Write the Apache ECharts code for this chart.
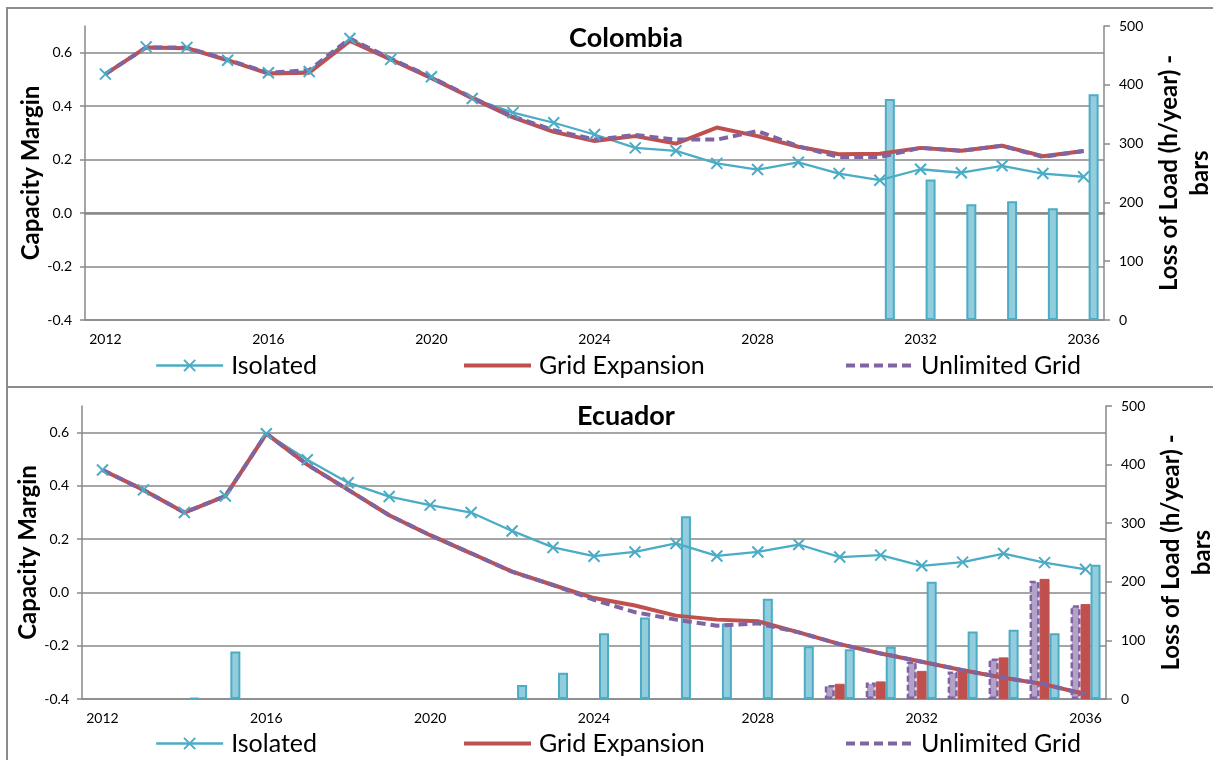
<!DOCTYPE html>
<html>
<head>
<meta charset="utf-8">
<title>Capacity Margin and Loss of Load</title>
<script src="https://cdn.jsdelivr.net/npm/echarts@6/dist/echarts.min.js"></script>
<style>
  html, body { margin: 0; padding: 0; background: #ffffff; }
  #chart { width: 1213px; height: 760px; }
</style>
</head>
<body>
<div id="chart"></div>
<script>
// Years on the category axis
const years = [2012, 2013, 2014, 2015, 2016, 2017, 2018, 2019, 2020, 2021, 2022, 2023, 2024,
               2025, 2026, 2027, 2028, 2029, 2030, 2031, 2032, 2033, 2034, 2035, 2036];

// Colombia – capacity margin (left axis, lines)
const colombiaIsolated  = [0.520, 0.622, 0.620, 0.572, 0.525, 0.530, 0.653, 0.575, 0.510, 0.429, 0.376, 0.338, 0.294,
                           0.244, 0.233, 0.186, 0.163, 0.190, 0.148, 0.123, 0.164, 0.151, 0.177, 0.148, 0.136];
const colombiaGrid      = [0.520, 0.620, 0.617, 0.572, 0.522, 0.525, 0.644, 0.575, 0.505, 0.430, 0.358, 0.304, 0.270,
                           0.288, 0.260, 0.320, 0.288, 0.248, 0.220, 0.222, 0.244, 0.233, 0.252, 0.213, 0.232];
const colombiaUnlimited = [0.520, 0.620, 0.619, 0.574, 0.525, 0.535, 0.653, 0.578, 0.508, 0.432, 0.362, 0.310, 0.275,
                           0.292, 0.275, 0.275, 0.307, 0.250, 0.210, 0.210, 0.244, 0.233, 0.252, 0.210, 0.232];

// Colombia – loss of load, h/year (right axis, bars)
const colombiaLolIsolated  = [0, 0, 0, 0, 0, 0, 0, 0, 0, 0, 0, 0, 0, 0, 0, 0, 0, 0, 0, 376, 239, 197, 202, 190, 384];
const colombiaLolGrid      = [0, 0, 0, 0, 0, 0, 0, 0, 0, 0, 0, 0, 0, 0, 0, 0, 0, 0, 0, 0, 0, 0, 0, 0, 0];
const colombiaLolUnlimited = [0, 0, 0, 0, 0, 0, 0, 0, 0, 0, 0, 0, 0, 0, 0, 0, 0, 0, 0, 0, 0, 0, 0, 0, 0];

// Ecuador – capacity margin (left axis, lines)
const ecuadorIsolated  = [0.460, 0.385, 0.300, 0.362, 0.596, 0.498, 0.412, 0.360, 0.328, 0.300, 0.231, 0.169, 0.136,
                          0.152, 0.184, 0.137, 0.152, 0.180, 0.133, 0.140, 0.100, 0.114, 0.146, 0.112, 0.087];
const ecuadorGrid      = [0.460, 0.385, 0.300, 0.362, 0.596, 0.480, 0.385, 0.290, 0.215, 0.147, 0.078, 0.028, -0.021,
                          -0.049, -0.087, -0.102, -0.108, -0.150, -0.194, -0.229, -0.260, -0.292, -0.320, -0.345, -0.382];
const ecuadorUnlimited = [0.460, 0.385, 0.300, 0.362, 0.596, 0.480, 0.385, 0.290, 0.215, 0.147, 0.078, 0.028, -0.028,
                          -0.074, -0.102, -0.125, -0.116, -0.150, -0.194, -0.229, -0.260, -0.292, -0.320, -0.345, -0.382];

// Ecuador – loss of load, h/year (right axis, bars)
const ecuadorLolIsolated  = [0, 0, 2, 81, 0, 0, 0, 0, 0, 0, 24, 45, 112, 139, 312, 129, 171, 90, 85, 89, 200, 115, 118, 112, 229];
const ecuadorLolGrid      = [0, 0, 0, 0, 0, 0, 0, 0, 0, 0, 0, 0, 0, 0, 0, 0, 0, 0, 26, 30, 48, 50, 71, 205, 162];
const ecuadorLolUnlimited = [0, 0, 0, 0, 0, 0, 0, 0, 0, 0, 0, 0, 0, 0, 0, 0, 0, 0, 24, 28, 64, 47, 69, 202, 160];

// Axis ranges and titles
const marginAxis = { min: -0.4, max: 0.7, interval: 0.2 };
const lolAxis = { min: 0, max: 500, interval: 100 };
const marginTitle = 'Capacity Margin';
const lolTitle = 'Loss of Load (h/year) -\nbars';
const seriesNames = ['Isolated', 'Grid Expansion', 'Unlimited Grid'];

const FONT = 'Lato, "Open Sans", sans-serif';
const GRID_GRAY = '#898989';
const C_ISO = '#4BACC6', C_ISO_FILL = '#93CDDD';
const C_GRID = '#C0504D';
const C_UNL = '#8064A2', C_UNL_FILL = '#B3A2C7';
const CROSS = 'path://M0,0L10,10M0,10L10,0';
const LINE_WIDTHS = [2.3, 4, 4];

const panels = [
  { name: 'Colombia', grid: { left: 85, top: 26, width: 1019, height: 294 }, titleTop: 20, legendTop: 353,
    iso: colombiaIsolated, grid2: colombiaGrid, unl: colombiaUnlimited,
    lolIso: colombiaLolIsolated, lolGrid: colombiaLolGrid, lolUnl: colombiaLolUnlimited, zeroLine: true },
  { name: 'Ecuador', grid: { left: 82, top: 406, width: 1024, height: 293 }, titleTop: 398, legendTop: 731,
    iso: ecuadorIsolated, grid2: ecuadorGrid, unl: ecuadorUnlimited,
    lolIso: ecuadorLolIsolated, lolGrid: ecuadorLolGrid, lolUnl: ecuadorLolUnlimited, zeroLine: false }
];
// legend entry positions (left edge of each key)
const legendLefts = [155, 462, 844];

const barValues = arr => arr.map(v => (v > 0 ? v : '-'));
const fmtMargin = v => (Math.abs(v) < 1e-9 ? '0.0' : v.toFixed(1));

const option = {
  animation: false,
  backgroundColor: '#ffffff',
  textStyle: { fontFamily: FONT },
  title: [], grid: [], xAxis: [], yAxis: [], legend: [], series: [],
  graphic: [
    { type: 'rect', shape: { x: 7, y: 8, width: 1230, height: 379 },
      style: { fill: 'none', stroke: '#8c8c8c', lineWidth: 2 }, silent: true },
    { type: 'rect', shape: { x: 7, y: 387, width: 1230, height: 420 },
      style: { fill: 'none', stroke: '#8c8c8c', lineWidth: 2 }, silent: true }
  ]
};

panels.forEach((p, i) => {
  option.title.push({
    text: p.name, left: 621, top: p.titleTop, textAlign: 'center',
    textStyle: { fontFamily: FONT, fontSize: 27, fontWeight: 'bold', color: '#000' }
  });
  option.grid.push(Object.assign({ containLabel: false, outerBoundsMode: 'none' }, p.grid));

  const xBase = option.xAxis.length;
  option.xAxis.push({
    type: 'category', gridIndex: i, data: years, boundaryGap: true,
    axisLine: { onZero: false, lineStyle: { color: GRID_GRAY, width: 1.5 } },
    axisTick: { show: false },
    axisLabel: { interval: 3, margin: 12, fontSize: 14, color: '#000', fontFamily: FONT },
    splitLine: { show: false }
  });
  if (p.zeroLine) {
    // horizontal category axis crossing at zero margin
    option.xAxis.push({
      type: 'category', gridIndex: i, data: years, boundaryGap: true, position: 'bottom',
      axisLine: { onZero: true, onZeroAxisIndex: option.yAxis.length, lineStyle: { color: GRID_GRAY, width: 2.5 } },
      axisTick: { show: false }, axisLabel: { show: false }, splitLine: { show: false }
    });
  }

  const yLeft = option.yAxis.length;
  option.yAxis.push({
    type: 'value', gridIndex: i, position: 'left',
    min: marginAxis.min, max: marginAxis.max, interval: marginAxis.interval,
    name: marginTitle, nameLocation: 'middle', nameGap: 42, nameRotate: 90, nameMoveOverlap: false,
    nameTextStyle: { fontFamily: FONT, fontSize: 24, fontWeight: 'bold', color: '#000' },
    axisLine: { show: true, lineStyle: { color: GRID_GRAY, width: 1.5 } },
    axisTick: { show: true, inside: false, length: 5, lineStyle: { color: GRID_GRAY, width: 1.5 } },
    axisLabel: { formatter: fmtMargin, showMaxLabel: false, margin: 13, fontSize: 14, color: '#000', fontFamily: FONT },
    splitLine: { show: true, showMaxLine: false, lineStyle: { color: GRID_GRAY, width: 1.5 } }
  });
  const yRight = option.yAxis.length;
  option.yAxis.push({
    type: 'value', gridIndex: i, position: 'right',
    min: lolAxis.min, max: lolAxis.max, interval: lolAxis.interval,
    name: lolTitle, nameLocation: 'middle', nameGap: 46, nameRotate: 90,
    nameTextStyle: { fontFamily: FONT, fontSize: 24, fontWeight: 'bold', color: '#000', lineHeight: 31 },
    axisLine: { show: true, lineStyle: { color: GRID_GRAY, width: 1.5 } },
    axisTick: { show: true, inside: false, length: 6, lineStyle: { color: GRID_GRAY, width: 1.5 } },
    axisLabel: { margin: 15, fontSize: 14, color: '#000', fontFamily: FONT },
    splitLine: { show: false }
  });

  seriesNames.forEach((nm, k) => {
    option.legend.push({
      data: [k === 0 ? { name: nm } : { name: nm, itemStyle: { opacity: 0 } }],
      left: legendLefts[k], top: p.legendTop, itemWidth: 67, itemHeight: 14, padding: 0,
      lineStyle: { width: LINE_WIDTHS[k] },
      textStyle: { fontFamily: FONT, fontSize: 25, color: '#000', padding: [0, 0, 0, 3] }, selectedMode: false
    });
  });

  const barCommon = { type: 'bar', xAxisIndex: xBase, yAxisIndex: yRight, barWidth: 10, barGap: '0%', z: 2 };
  option.series.push(
    Object.assign({}, barCommon, {
      name: 'Unlimited Grid LOL', data: barValues(p.lolUnl),
      itemStyle: { color: C_UNL_FILL, borderColor: C_UNL, borderWidth: 2.5, borderType: [6, 3] }
    }),
    Object.assign({}, barCommon, {
      name: 'Grid Expansion LOL', data: barValues(p.lolGrid),
      itemStyle: { color: C_GRID, borderColor: C_GRID, borderWidth: 1 }
    }),
    Object.assign({}, barCommon, {
      name: 'Isolated LOL', data: barValues(p.lolIso),
      itemStyle: { color: C_ISO_FILL, borderColor: C_ISO, borderWidth: 2 }
    })
  );

  const lineCommon = { type: 'line', xAxisIndex: xBase, yAxisIndex: yLeft, z: 4, showAllSymbol: true };
  option.series.push(
    Object.assign({}, lineCommon, {
      name: 'Isolated', data: p.iso, symbol: CROSS, symbolSize: 11,
      lineStyle: { color: C_ISO, width: LINE_WIDTHS[0] },
      itemStyle: { color: C_ISO, borderColor: C_ISO, borderWidth: 2 }
    }),
    Object.assign({}, lineCommon, {
      name: 'Grid Expansion', data: p.grid2, symbol: 'none',
      lineStyle: { color: C_GRID, width: LINE_WIDTHS[1] }, itemStyle: { color: C_GRID }
    }),
    Object.assign({}, lineCommon, {
      name: 'Unlimited Grid', data: p.unl, symbol: 'none',
      lineStyle: { color: C_UNL, width: LINE_WIDTHS[2], type: [9, 5] }, itemStyle: { color: C_UNL }
    })
  );
});

const chart = echarts.init(document.getElementById('chart'), null, { renderer: 'canvas' });
chart.setOption(option);
</script>
</body>
</html>
